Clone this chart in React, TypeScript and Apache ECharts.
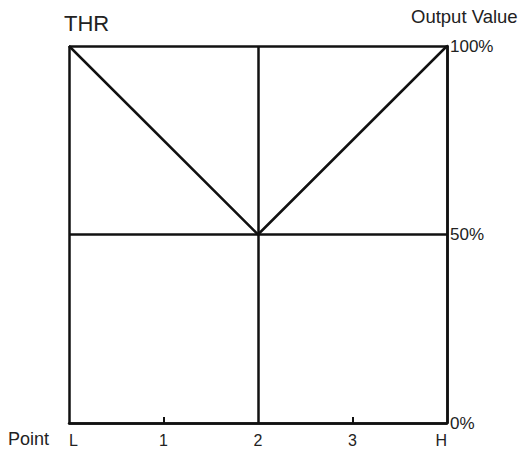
import React, { useEffect, useRef } from "react";
import * as echarts from "echarts";

const categories = ["L", "1", "2", "3", "H"];
const yTicks = [0, 50, 100];
const thrLine: [string, number][] = [
  ["L", 100],
  ["2", 50],
  ["H", 100],
];

const INK = "#111";
const TEXT = "#222";
const FONT = "'Liberation Sans', Arial, Helvetica, sans-serif";

export default function App() {
  const ref = useRef<HTMLDivElement>(null);
  useEffect(() => {
    if (!ref.current) return;
    const chart = echarts.init(ref.current, null, { renderer: "svg" });
    chart.setOption({
      animation: false,
      backgroundColor: "#fff",
      grid: { left: 69, right: 76, top: 46, bottom: 30, containLabel: false },
      xAxis: {
        type: "category",
        data: categories,
        boundaryGap: false,
        axisLine: { show: true, lineStyle: { color: INK, width: 2.5 } },
        axisTick: {
          show: true,
          inside: true,
          length: 6,
          interval: (i: number) => i === 1 || i === 3,
          lineStyle: { color: INK, width: 2 },
        },
        axisLabel: {
          color: TEXT,
          fontSize: 16,
          fontFamily: FONT,
          margin: 9,
          interval: 0,
          alignMinLabel: "left",
          alignMaxLabel: "right",
        },
        splitLine: {
          show: true,
          interval: (i: number) => i === 0 || i === 2 || i === 4,
          lineStyle: { color: INK, width: 2.5 },
        },
      },
      yAxis: {
        type: "value",
        position: "right",
        min: 0,
        max: 100,
        interval: 50,
        axisLine: { show: true, lineStyle: { color: INK, width: 2.5 } },
        axisTick: { show: false },
        axisLabel: {
          color: TEXT,
          fontSize: 17,
          fontFamily: FONT,
          margin: 3,
          formatter: (v: number) => (yTicks.includes(v) ? `${v}%` : ""),
        },
        splitLine: { show: true, lineStyle: { color: INK, width: 2.5 } },
      },
      series: [
        {
          type: "line",
          data: thrLine,
          symbol: "none",
          lineStyle: { color: INK, width: 2.5 },
        },
      ],
      graphic: [
        {
          type: "text",
          left: 64,
          top: 12,
          style: { text: "THR", fill: TEXT, fontSize: 22, fontFamily: FONT },
        },
        {
          type: "text",
          left: 411,
          top: 7,
          style: { text: "Output Value", fill: TEXT, fontSize: 18.5, fontFamily: FONT },
        },
        {
          type: "text",
          left: 8,
          top: 430,
          style: { text: "Point", fill: TEXT, fontSize: 18, fontFamily: FONT },
        },
      ],
    });
    return () => chart.dispose();
  }, []);
  return <div ref={ref} style={{ width: 523, height: 453, position: "absolute", left: 0, top: 0 }} />;
}
